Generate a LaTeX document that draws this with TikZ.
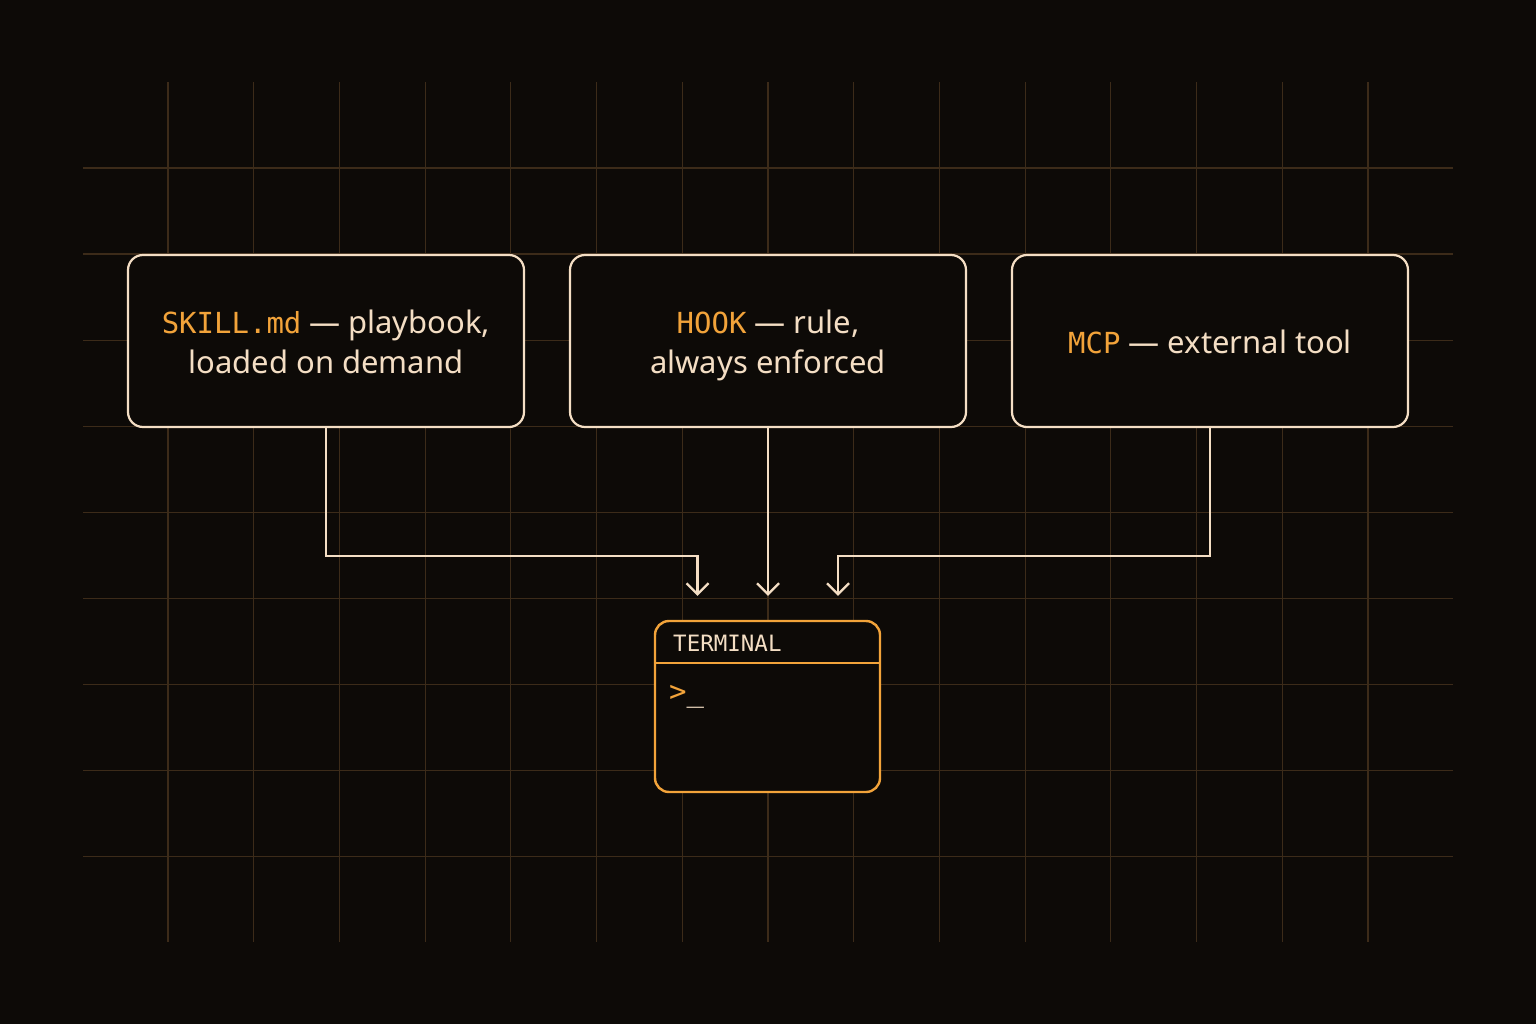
\documentclass[tikz,border=0pt]{standalone}
\usepackage{fontspec}
\setmainfont{Noto Sans}
\setmonofont{DejaVu Sans Mono}
\usetikzlibrary{arrows.meta}
\definecolor{bg}{HTML}{0D0A07}
\definecolor{gridc}{HTML}{3C2B19}
\definecolor{cream}{HTML}{F4DEC4}
\definecolor{amber}{HTML}{F2A33A}
\newcommand{\cardstrut}{\rule[-8pt]{0pt}{40pt}}
\begin{document}
\begin{tikzpicture}[x=1pt,y=-1pt,
  gridline/.style={draw=gridc,line width=1.2pt},
  card/.style={draw=cream,fill=bg,line width=2.2pt,rounded corners=15pt,
    minimum width=396pt,minimum height=172pt,inner sep=0pt,align=center,
    text=cream,font=\fontsize{31}{40}\selectfont},
  termbox/.style={draw=amber,fill=bg,line width=2.4pt,rounded corners=14pt,
    minimum width=225pt,minimum height=171pt,inner sep=0pt},
  conn/.style={draw=cream,line width=2.2pt,
    -{Straight Barb[length=11pt,width=22pt,line width=2.2pt]},shorten >=24pt}
]
\fill[bg] (0,0) rectangle (1536,1024);
\useasboundingbox (0,0) rectangle (1536,1024);
% grid
\foreach \k in {1,...,15} {\draw[gridline] (82.3+85.71*\k,82) -- (82.3+85.71*\k,942);}
\foreach \k in {0,...,8} {\draw[gridline] (83,168+86.1*\k) -- (1453,168+86.1*\k);}
% cards
\node[card] (skill) at (326,341) {\cardstrut{\fontsize{29}{40}\ttfamily\color{amber}SKILL.md} — playbook,\\\cardstrut loaded on demand};
\node[card] (hook) at (768,341) {\cardstrut{\fontsize{29}{40}\ttfamily\color{amber}HOOK} — rule,\\\cardstrut always enforced};
\node[card] (mcp) at (1210,341) {\cardstrut{\fontsize{29}{40}\ttfamily\color{amber}MCP} — external tool};
% terminal
\node[termbox] (term) at (767.5,706.5) {};
\draw[amber,line width=2.4pt] (term.west |- 0,663) -- (term.east |- 0,663);
\node[anchor=base west,inner sep=0pt,text=cream,font=\fontsize{22.5}{24}\ttfamily] (termlabel) at (673,651) {TERMINAL};
\node[anchor=base west,inner sep=0pt,font=\fontsize{29}{29}\ttfamily] (prompt) at (669,701) {{\color{amber}>}\textcolor{cream}{\_}};
% connectors
\draw[conn] (skill.south) -- ++(0,128) -| ([xshift=-70pt]term.north);
\draw[conn] (hook.south) -- ([xshift=0.5pt]term.north);
\draw[conn] (mcp.south) -- ++(0,128) -| ([xshift=70.5pt]term.north);
\end{tikzpicture}
\end{document}
